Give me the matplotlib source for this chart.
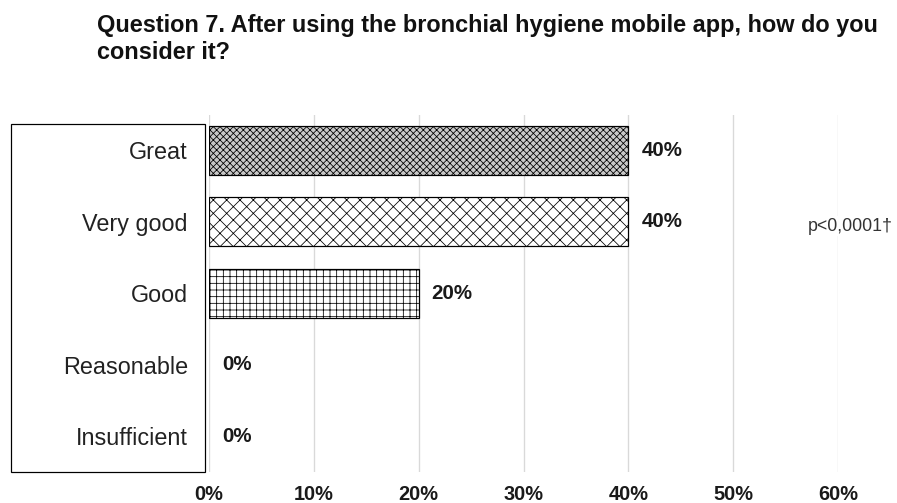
import matplotlib
matplotlib.use("Agg")
import matplotlib.pyplot as plt
from matplotlib.patches import Rectangle

categories = ["Great", "Very good", "Good", "Reasonable", "Insufficient"]
values = [40, 40, 20, 0, 0]
value_labels = ["40%", "40%", "20%", "0%", "0%"]
xticks = [0, 10, 20, 30, 40, 50, 60]
xtick_labels = ["0%", "10%", "20%", "30%", "40%", "50%", "60%"]
hatches = ["xxxx", "xx", "++", "", ""]
facecolors = ["#c8c8c8", "white", "white", "white", "white"]

title = "Question 7. After using the bronchial hygiene mobile app, how do you\nconsider it?"
note = "p<0,0001\u2020"

plt.rcParams["font.family"] = ["Liberation Sans", "DejaVu Sans"]
plt.rcParams["hatch.linewidth"] = 0.7

DPI = 80
fig = plt.figure(figsize=(897 / DPI, 503 / DPI), dpi=DPI)
ax = fig.add_axes([209 / 897, 1 - 472 / 503, (838 - 209) / 897, (472 - 114.5) / 503])

y = list(range(len(categories)))
# zero-length bars get no outline (nothing shows in the original)
edges = ["black" if v > 0 else "none" for v in values]
ax.barh(y, values, height=0.69, color=facecolors, edgecolor=edges,
        linewidth=1.1, hatch=hatches, zorder=3)

for yi, v, lab in zip(y, values, value_labels):
    ax.annotate(lab, (v, yi), xytext=(11.7, 0), textcoords="offset points",
                ha="left", va="center", fontsize=18.5, fontweight="bold",
                color="#1a1a1a")

ax.set_xlim(0, 60)
ax.set_ylim(len(categories) - 0.5, -0.5)
ax.set_xticks(xticks)
ax.set_xticklabels(xtick_labels, fontsize=18, fontweight="bold", color="#1a1a1a")
ax.set_yticks(y)
ax.set_yticklabels(categories, fontsize=21, color="#222222")
ax.tick_params(axis="x", length=0, pad=12)
ax.tick_params(axis="y", length=0, pad=19)
ax.grid(axis="x", color="#d9d9d9", linewidth=1.2, zorder=0)
for s in ax.spines.values():
    s.set_visible(False)

# box around the category labels
fig.patches.append(Rectangle((11 / 897, 1 - 472 / 503), (205 - 11) / 897, (472 - 124) / 503,
                             transform=fig.transFigure, fill=False,
                             edgecolor="black", linewidth=1.1))

ax.text(61.2, 1.06, note, fontsize=16, color="#333333",
        ha="center", va="center", zorder=4, clip_on=False,
        bbox=dict(facecolor="white", edgecolor="none", pad=1))

fig.text(97 / 897, 1 - 14 / 503, title, ha="left", va="top", fontsize=21.2,
         fontweight="bold", color="#111111", linespacing=1.2)

fig.savefig("out.png", dpi=DPI)
